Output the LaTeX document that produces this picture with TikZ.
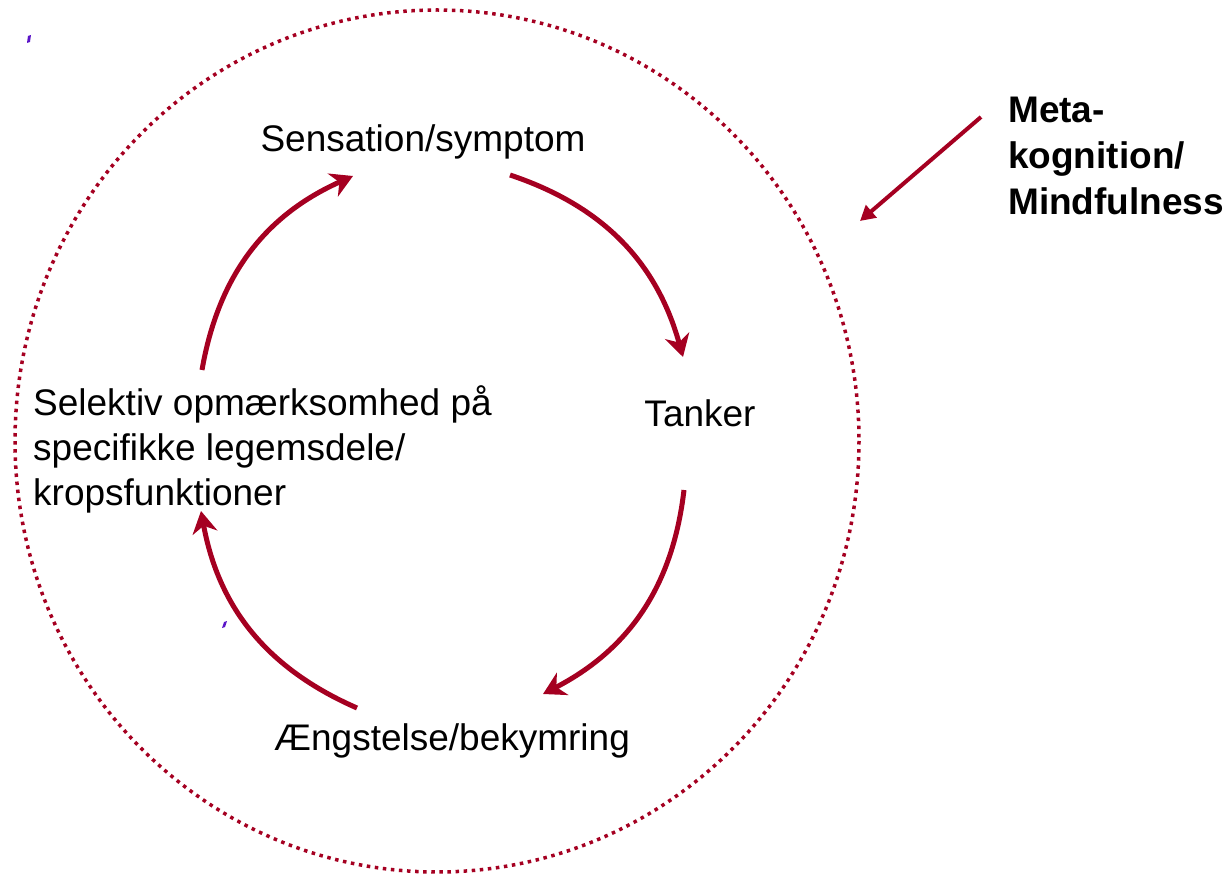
\documentclass[tikz,border=0pt]{standalone}
\usepackage{fontspec}
\setmainfont{Liberation Sans}
\usetikzlibrary{arrows.meta}
\definecolor{cyclered}{HTML}{A50021}
\definecolor{markviolet}{HTML}{5A14C8}
\begin{document}
\begin{tikzpicture}[x=1pt,y=-1pt,
  label/.style={inner sep=0pt, font=\fontsize{37}{45}\selectfont},
  metalabel/.style={label, font=\fontsize{37}{46}\selectfont\bfseries, align=left, anchor=west},
  cycle/.style={draw=cyclered, line width=5pt,
    -{Stealth[length=22pt, width=25pt, inset=7pt]}},
  pointer/.style={draw=cyclered, line width=4pt,
    -{Triangle[length=15pt, width=16pt]}},
  boundary/.style={draw=cyclered, line width=3.5pt, dash pattern=on 3.5pt off 4.6pt}]
  \useasboundingbox (0,0) rectangle (1232,874);

  % surrounding awareness boundary
  \draw[boundary] (437,441) ellipse [x radius=422, y radius=431];

  % stages of the cycle
  \node[label] (sens) at (423,142) {Sensation/symptom};
  \node[label] (tank) at (700,413) {Tanker};
  \node[label] (aeng) at (452,741) {Ængstelse/bekymring};
  \node[label, align=left, anchor=west] (sel) at (33,449)
    {Selektiv opmærksomhed på\\specifikke legemsdele/\\kropsfunktioner};
  \node[metalabel] (meta) at (1008,156) {Meta-\\kognition/\\Mindfulness};

  % arc end points
  \coordinate (a1s) at (510,175);
  \coordinate (a1e) at (683,357);
  \coordinate (a2s) at (684,490);
  \coordinate (a2e) at (543,694);
  \coordinate (a3s) at (357,708);
  \coordinate (a3e) at (201,511);
  \coordinate (a4s) at (202,370);
  \coordinate (a4e) at (353,176);
  \coordinate (ms) at (981,117);
  \coordinate (me) at (860,221);

  % the cycle
  \draw[cycle] (a1s) to[bend left=28] (a1e);
  \draw[cycle] (a2s) to[bend left=28] (a2e);
  \draw[cycle] (a3s) to[bend left=28] (a3e);
  \draw[cycle] (a4s) to[bend left=28] (a4e);

  % metacognition acting on the whole cycle
  \draw[pointer] (ms) -- (me);

  % small stray marks
  \fill[markviolet] (27,43) -- (28,36) -- (31,35) -- (30,42) -- cycle;
  \fill[markviolet] (222,628) -- (224,622) -- (227,621) -- (225,627) -- cycle;
\end{tikzpicture}
\end{document}
